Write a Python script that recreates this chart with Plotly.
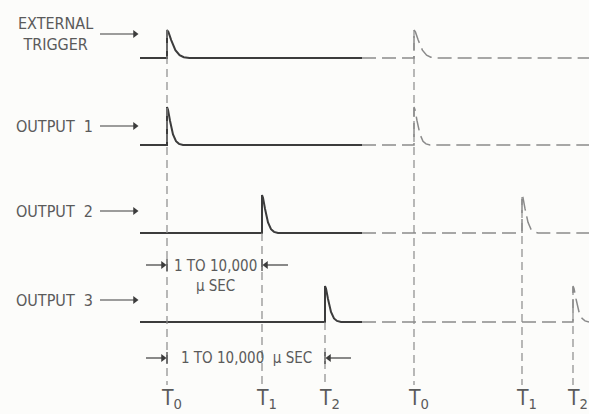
import plotly.graph_objects as go

# ---- data (diagram units: x in time-axis units, y in drawing units) ----
channel_labels = ["EXTERNAL<br>TRIGGER", "OUTPUT  1", "OUTPUT  2", "OUTPUT  3"]
label_y = [34, 126, 211, 300]
baseline_y = [58, 145, 233, 322]
pulse_height = [28, 38, 38, 36]
pulse_width = [1.4, 1.0, 1.0, 1.0]
first_pulse_x = [167, 167, 262, 325]
second_pulse_x = [414, 414, 522, 573]
trace_start = 140
solid_end = 362
trace_end = 589

# pulse glyph: (dx, fraction of height)
pulse_dx = [0, 0, 1, 3, 6, 9, 12, 16]
pulse_frac = [0, 1, 0.93, 0.64, 0.28, 0.1, 0.03, 0]

time_marks = [167, 262, 325, 414, 522, 573]
time_labels = ["T<sub>0</sub>", "T<sub>1</sub>", "T<sub>2</sub>",
               "T<sub>0</sub>", "T<sub>1</sub>", "T<sub>2</sub>"]
mark_top = [30, 233, 322, 30, 197, 287]
mark_bottom = 385

dim_rows = [265, 358]
dim_from = [167, 167]
dim_to = [262, 325]
dim_text = ["1 TO 10,000<br>µ SEC", "1 TO 10,000  µ SEC"]
dim_text_x = [215, 246]

SOLID = "#3c3c3c"
DASH = "#8a8a8a"
TEXT = "#5a5a5a"
FONT = "DejaVu Sans Condensed, Liberation Sans Narrow, sans-serif"

fig = go.Figure()


def pulse(x0, base, h, w):
    xs = [x0 + d * w for d in pulse_dx]
    ys = [base - f * h for f in pulse_frac]
    return xs, ys


def arrow(x_from, x_to, y):
    sym = "triangle-right" if x_to > x_from else "triangle-left"
    tip_back = -3 if x_to > x_from else 3
    fig.add_trace(go.Scatter(x=[x_from, x_to + tip_back], y=[y, y], mode="lines",
                             line=dict(color=SOLID, width=1.2), hoverinfo="skip"))
    fig.add_trace(go.Scatter(x=[x_to + tip_back], y=[y], mode="markers",
                             marker=dict(symbol=sym, size=7, color=SOLID),
                             hoverinfo="skip"))


for i in range(4):
    b = baseline_y[i]
    px, py = pulse(first_pulse_x[i], b, pulse_height[i], pulse_width[i])
    xs = [trace_start] + px + [solid_end]
    ys = [b] + py + [b]
    fig.add_trace(go.Scatter(x=xs, y=ys, mode="lines",
                             line=dict(color=SOLID, width=2), hoverinfo="skip"))
    qx, qy = pulse(second_pulse_x[i], b, pulse_height[i], pulse_width[i])
    xs2 = [solid_end] + qx + [trace_end]
    ys2 = [b] + qy + [b]
    fig.add_trace(go.Scatter(x=xs2, y=ys2, mode="lines",
                             line=dict(color=DASH, width=1.5, dash="14px,6px"),
                             hoverinfo="skip"))

for x, top in zip(time_marks, mark_top):
    fig.add_trace(go.Scatter(x=[x, x], y=[top, mark_bottom], mode="lines",
                             line=dict(color=DASH, width=1.2, dash="8px,5px"),
                             hoverinfo="skip"))

annotations = []
for lab, ly in zip(channel_labels, label_y):
    annotations.append(dict(x=95, y=ly, xref="x", yref="y", text=lab,
                            showarrow=False, xanchor="right", align="center",
                            font=dict(family=FONT, size=16, color=TEXT)))
    arrow(100, 138, ly)

for x, t in zip(time_marks, time_labels):
    annotations.append(dict(x=x + 4, y=399, xref="x", yref="y", text=t,
                            showarrow=False,
                            font=dict(family=FONT, size=21, color=TEXT)))

for row, a, b, txt, tx in zip(dim_rows, dim_from, dim_to, dim_text, dim_text_x):
    arrow(a - 21, a - 1, row)
    arrow(b + 26, b + 1, row)
    fig.add_trace(go.Scatter(x=[a, a, None, b, b], y=[row - 6, row + 6, None, row - 6, row + 6],
                             mode="lines", line=dict(color=SOLID, width=1.2),
                             hoverinfo="skip"))
    annotations.append(dict(x=tx, y=row, xref="x", yref="y", text=txt,
                            showarrow=False, yanchor="top" if "<br>" in txt else "middle",
                            yshift=10 if "<br>" in txt else 0,
                            font=dict(family=FONT, size=15, color=TEXT)))

fig.update_layout(
    width=589, height=414,
    margin=dict(l=0, r=0, t=0, b=0),
    paper_bgcolor="#fcfcfa", plot_bgcolor="#fcfcfa",
    showlegend=False,
    xaxis=dict(range=[0, 589], visible=False, fixedrange=True),
    yaxis=dict(range=[414, 0], visible=False, fixedrange=True),
    annotations=annotations,
)

fig.write_html("out.html", config={"displayModeBar": False},
               post_script="document.body.style.margin='0';document.body.style.overflow='hidden';")
